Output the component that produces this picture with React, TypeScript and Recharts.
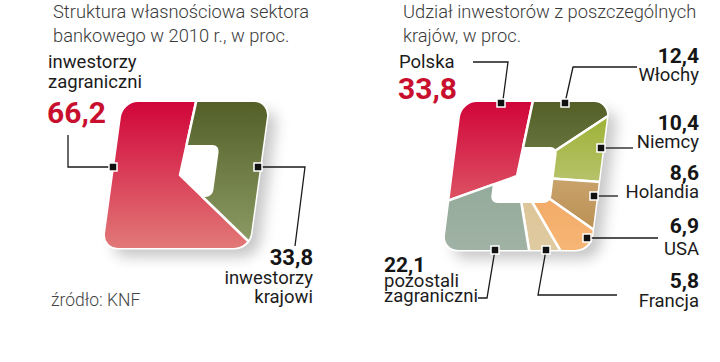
import React from 'react'
import { PieChart, Pie, Cell } from 'recharts'

// Struktura własnościowa (left panel)
const ownershipNames = ['inwestorzy zagraniczni', 'inwestorzy krajowi']
const ownershipValues = [66.2, 33.8]

// Udział inwestorów z poszczególnych krajów (right panel)
const countryNames = ['Polska', 'Włochy', 'Niemcy', 'Holandia', 'USA', 'Francja', 'pozostali zagraniczni']
const countryValues = [33.8, 12.4, 10.4, 8.6, 6.9, 5.8, 22.1]

const fmt = (v: number) => v.toFixed(1).replace('.', ',')

const ownershipData = ownershipNames.map((name, i) => ({ name, value: ownershipValues[i] }))
const countryData = countryNames.map((name, i) => ({ name, value: countryValues[i] }))

const gradients: Record<string, [string, string]> = {
  red: ['#d1053a', '#e27a78'],
  olive: ['#545f28', '#8e9e66'],
  lime: ['#98ae2a', '#d2d4a2'],
  tan: ['#dcc090', '#b6884a'],
  orange: ['#ec944c', '#f6b676'],
  beige: ['#d4bc88', '#e0caa0'],
  sage: ['#84a08e', '#a0b2a4'],
}

const ownershipFills = ['red', 'olive']
const countryFills = ['red', 'olive', 'lime', 'tan', 'orange', 'beige', 'sage']

interface Panel {
  id: string
  cx: number
  cy: number
  w: number
  h: number
  skew: number
  r: number
  pieCx: number
  pieCy: number
  hole: { cx: number; cy: number; w: number; h: number; r: number }
}

const leftPanel: Panel = {
  id: 'L',
  cx: 186,
  cy: 175,
  w: 146,
  h: 146,
  skew: -7.8,
  r: 15,
  pieCx: 180,
  pieCy: 175,
  hole: { cx: 188, cy: 171, w: 56, h: 52, r: 7 },
}

const rightPanel: Panel = {
  id: 'R',
  cx: 166,
  cy: 176,
  w: 147,
  h: 148,
  skew: -7.2,
  r: 15,
  pieCx: 157,
  pieCy: 176,
  hole: { cx: 164, cy: 175, w: 60, h: 56, r: 7 },
}

const SkewRect = ({ cx, cy, w, h, r, skew, ...rest }: any) => (
  <rect
    transform={`translate(${cx} ${cy}) skewX(${skew})`}
    x={-w / 2}
    y={-h / 2}
    width={w}
    height={h}
    rx={r}
    ry={r}
    {...rest}
  />
)

function PanelDefs({ p }: { p: Panel }) {
  return (
    <>
      <mask id={`shape${p.id}`} maskUnits="userSpaceOnUse" x={0} y={0} width={360} height={362}>
        <SkewRect cx={p.cx} cy={p.cy} w={p.w} h={p.h} r={p.r} skew={p.skew} fill="#fff" />
      </mask>
      <mask id={`hole${p.id}`} maskUnits="userSpaceOnUse" x={0} y={0} width={360} height={362}>
        <SkewRect cx={p.cx} cy={p.cy} w={p.w} h={p.h} r={p.r} skew={p.skew} fill="#fff" />
        <SkewRect {...p.hole} skew={p.skew} fill="#000" />
      </mask>
    </>
  )
}

const titleStyle = { fontSize: 18.3, fontWeight: 300, fill: '#3a3a3a' }
const labelStyle = { fontSize: 18.5, fontWeight: 400, fill: '#1c1c1c' }
const numStyle = { fontSize: 21, fontWeight: 700, fill: '#151515' }
const bigStyle = { fontSize: 30, fontWeight: 700, fill: '#c8102e' }
const lineProps = { fill: 'none', stroke: '#1a1a1a', strokeWidth: 1.3 }

const Marker = ({ x, y }: { x: number; y: number }) => (
  <rect x={x - 4} y={y - 4} width={8} height={8} fill="#111" stroke="#fff" strokeWidth={1.5} />
)

function ShadowLayer() {
  return (
    <svg width={720} height={362} style={{ position: 'absolute', left: 0, top: 0 }}>
      <defs>
        <filter id="blur" x="-30%" y="-30%" width="160%" height="160%">
          <feGaussianBlur stdDeviation="7" />
        </filter>
        {Object.entries(gradients).map(([k, [a, b]]) => (
          <linearGradient key={k} id={`g-${k}`} gradientUnits="userSpaceOnUse" x1={0} y1={102} x2={0} y2={250}>
            <stop offset="0%" stopColor={a} />
            <stop offset="100%" stopColor={b} />
          </linearGradient>
        ))}
        <PanelDefs p={leftPanel} />
        <PanelDefs p={rightPanel} />
      </defs>
      {[leftPanel, rightPanel].map((p, i) => (
        <g key={p.id}>
          <SkewRect
            cx={p.cx + i * 360 + 9}
            cy={p.cy + 9}
            w={p.w}
            h={p.h}
            r={p.r}
            skew={p.skew}
            fill="#9a9a9a"
            opacity={0.55}
            filter="url(#blur)"
          />
          {/* keep the inside of the panel white so the hole stays clean */}
          <SkewRect cx={p.cx + i * 360} cy={p.cy} w={p.w + 3} h={p.h + 3} r={p.r} skew={p.skew} fill="#fff" />
        </g>
      ))}
    </svg>
  )
}

function PanelChart({ p, data, fills, left }: { p: Panel; data: any[]; fills: string[]; left: number }) {
  const total = data.reduce((s, d) => s + d.value, 0)
  // the top divider sits just right of 12 o'clock; slices run clockwise
  const topAngle = p.id === 'L' ? 77.6 : 78
  const first = (data[0].value / total) * 360
  const start = p.id === 'L' ? topAngle - (data[1].value / total) * 360 : topAngle + first
  return (
    <div style={{ position: 'absolute', left, top: 0 }}>
      <PieChart width={360} height={362} margin={{ top: 0, right: 0, bottom: 0, left: 0 }}>
        <Pie
          data={data}
          dataKey="value"
          nameKey="name"
          cx={p.pieCx}
          cy={p.pieCy}
          innerRadius={0}
          outerRadius={150}
          startAngle={start}
          endAngle={start - 360}
          stroke="#fff"
          strokeWidth={2.5}
          label={false}
          labelLine={false}
          isAnimationActive={false}
        >
          {data.map((d, i) => (
            <Cell
              key={d.name}
              fill={`url(#g-${fills[i]})`}
              mask={i === 0 ? `url(#shape${p.id})` : `url(#hole${p.id})`}
            />
          ))}
        </Pie>
      </PieChart>
    </div>
  )
}

function Annotations() {
  return (
    <svg width={720} height={362} style={{ position: 'absolute', left: 0, top: 0, pointerEvents: 'none' }}>
      <g fontFamily="Roboto, 'Noto Sans', sans-serif">
        {/* left panel */}
        <text x={53} y={18} {...titleStyle}>Struktura własnościowa sektora</text>
        <text x={53} y={42} {...titleStyle}>bankowego w 2010 r., w proc.</text>

        <text x={48} y={68} {...labelStyle}>inwestorzy</text>
        <text x={48} y={88} {...labelStyle}>zagraniczni</text>
        <text x={47} y={123} {...bigStyle}>{fmt(ownershipValues[0])}</text>
        <polyline points="68,135 68,167 113,167" {...lineProps} />
        <Marker x={113} y={167} />

        <polyline points="258,167 305,167 295,246" {...lineProps} />
        <Marker x={258} y={167} />
        <text x={313} y={265} textAnchor="end" {...numStyle} fontSize={22}>{fmt(ownershipValues[1])}</text>
        <text x={313} y={284} textAnchor="end" {...labelStyle}>inwestorzy</text>
        <text x={313} y={303} textAnchor="end" {...labelStyle}>krajowi</text>

        <text x={51} y={306} fontSize={17.5} fontWeight={300} fill="#444">źródło: KNF</text>

        {/* right panel */}
        <text x={403} y={18} {...titleStyle}>Udział inwestorów z poszczególnych</text>
        <text x={403} y={42} {...titleStyle}>krajów, w proc.</text>

        <text x={399} y={68} {...labelStyle}>{countryNames[0]}</text>
        <text x={398} y={99} {...bigStyle}>{fmt(countryValues[0])}</text>
        <polyline points="473,62 508,62 503,100" {...lineProps} />
        <Marker x={501} y={103} />

        <polyline points="565,103 573,67 637,67" {...lineProps} />
        <Marker x={565} y={103} />
        <text x={699} y={63} textAnchor="end" {...numStyle}>{fmt(countryValues[1])}</text>
        <text x={699} y={81} textAnchor="end" {...labelStyle}>{countryNames[1]}</text>

        <line x1={601} y1={148} x2={633} y2={148} {...lineProps} />
        <Marker x={601} y={148} />
        <text x={699} y={130} textAnchor="end" {...numStyle}>{fmt(countryValues[2])}</text>
        <text x={699} y={148} textAnchor="end" {...labelStyle}>{countryNames[2]}</text>

        <line x1={594} y1={196} x2={618} y2={196} {...lineProps} />
        <Marker x={594} y={196} />
        <text x={699} y={180} textAnchor="end" {...numStyle}>{fmt(countryValues[3])}</text>
        <text x={699} y={198} textAnchor="end" {...labelStyle}>{countryNames[3]}</text>

        <line x1={587} y1={238} x2={658} y2={238} {...lineProps} />
        <Marker x={587} y={238} />
        <text x={699} y={233} textAnchor="end" {...numStyle}>{fmt(countryValues[4])}</text>
        <text x={699} y={255} textAnchor="end" {...labelStyle}>{countryNames[4]}</text>

        <polyline points="546,250 538,295 617,295" {...lineProps} />
        <Marker x={546} y={250} />
        <text x={699} y={288} textAnchor="end" {...numStyle}>{fmt(countryValues[5])}</text>
        <text x={699} y={307} textAnchor="end" {...labelStyle}>{countryNames[5]}</text>

        <polyline points="495,250 487,298 478,298" {...lineProps} />
        <Marker x={495} y={250} />
        <text x={384} y={272} {...numStyle}>{fmt(countryValues[6])}</text>
        <text x={384} y={287} {...labelStyle}>pozostali</text>
        <text x={384} y={302} {...labelStyle}>zagraniczni</text>
      </g>
    </svg>
  )
}

export default function App() {
  return (
    <div
      style={{
        position: 'absolute',
        left: 0,
        top: 0,
        width: 720,
        height: 362,
        background: '#fff',
        overflow: 'hidden',
        fontFamily: 'Roboto, sans-serif',
      }}
    >
      <ShadowLayer />
      <PanelChart p={leftPanel} data={ownershipData} fills={ownershipFills} left={0} />
      <PanelChart p={rightPanel} data={countryData} fills={countryFills} left={360} />
      <Annotations />
    </div>
  )
}
